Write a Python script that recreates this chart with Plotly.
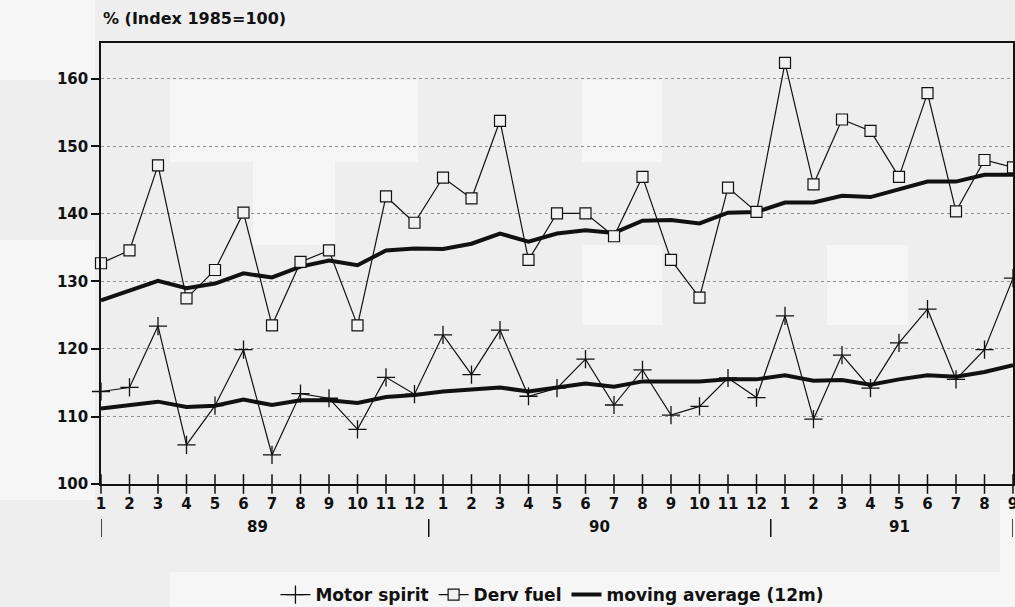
import plotly.graph_objects as go

W, H = 1015, 607
BG = "#eeeeee"
LIGHT = "#f6f6f6"
INK = "#111111"
FONT = "DejaVu Sans"

months = [str(m) for m in range(1, 13)] * 2 + [str(m) for m in range(1, 10)]
years = ["89", "90", "91"]
year_mid = [5.5, 17.5, 28]
year_breaks = [0, 11.5, 23.5, 32]

motor = [113.7, 114.3, 123.4, 105.8, 111.6, 119.9, 104.3, 113.4, 112.7, 108.1, 115.8, 113.3,
         122.1, 116.2, 122.8, 113.0, 114.2, 118.5, 111.7, 116.9, 110.2, 111.5, 115.7, 112.8,
         124.9, 109.6, 119.1, 114.2, 120.9, 125.9, 115.5, 119.9, 130.5]
derv = [132.7, 134.6, 147.2, 127.5, 131.7, 140.2, 123.5, 132.9, 134.6, 123.5, 142.6, 138.7,
        145.4, 142.3, 153.8, 133.2, 140.1, 140.1, 136.7, 145.5, 133.2, 127.6, 143.9, 140.3,
        162.4, 144.4, 154.0, 152.3, 145.5, 157.9, 140.4, 148.0, 146.9]
ma_motor = [111.2, 111.7, 112.2, 111.4, 111.6, 112.5, 111.7, 112.4, 112.4, 112.0, 112.9, 113.2,
            113.7, 114.0, 114.3, 113.7, 114.3, 114.9, 114.4, 115.2, 115.2, 115.2, 115.5, 115.5,
            116.1, 115.3, 115.4, 114.7, 115.5, 116.1, 115.9, 116.6, 117.6]
ma_derv = [127.2, 128.7, 130.1, 129.0, 129.7, 131.2, 130.6, 132.2, 133.1, 132.4, 134.6, 134.9,
           134.8, 135.6, 137.1, 135.9, 137.1, 137.6, 137.2, 139.0, 139.1, 138.6, 140.2, 140.3,
           141.7, 141.7, 142.7, 142.5, 143.6, 144.8, 144.8, 145.8, 145.8]

x = list(range(len(months)))

# plot area in pixels
L, R, T, B = 101, 2, 43, 123
PH = H - T - B

fig = go.Figure()

# moving averages first so the markers sit on top
fig.add_trace(go.Scatter(x=x, y=ma_motor, mode="lines", line=dict(color=INK, width=4),
                         name="moving average (12m)", legendgroup="ma", legendrank=3,
                         hoverinfo="skip"))
fig.add_trace(go.Scatter(x=x, y=ma_derv, mode="lines", line=dict(color=INK, width=4),
                         name="moving average (12m)", legendgroup="ma", showlegend=False,
                         hoverinfo="skip"))
fig.add_trace(go.Scatter(x=x, y=motor, mode="lines+markers", name="Motor spirit", legendrank=1,
                         line=dict(color=INK, width=1.2),
                         marker=dict(symbol="cross-thin", size=13, line=dict(color=INK, width=1.3)),
                         cliponaxis=False))
fig.add_trace(go.Scatter(x=x, y=derv, mode="lines+markers", name="Derv fuel", legendrank=2,
                         line=dict(color=INK, width=1.2),
                         marker=dict(symbol="square", size=11, color="#f2f2f2",
                                     line=dict(color=INK, width=1.2)),
                         cliponaxis=False))

# ticks crossing the x axis
fig.add_trace(go.Scatter(x=x, y=[100] * len(x), mode="markers", showlegend=False, hoverinfo="skip",
                         marker=dict(symbol="line-ns", size=14, line=dict(color=INK, width=1.5)),
                         cliponaxis=False))

# scanned-paper blocks (pixel boxes)
blocks = [(0, 0, 95, 80), (170, 80, 418, 162), (253, 162, 335, 245), (582, 80, 662, 162),
          (582, 245, 662, 325), (827, 245, 908, 325), (170, 572, 1000, 607), (1000, 500, 1015, 607),
          (0, 240, 95, 500)]
shapes = []
for x0, y0, x1, y1 in blocks:
    shapes.append(dict(type="rect", xref="paper", yref="paper", layer="below", line_width=0,
                       fillcolor=LIGHT,
                       x0=(x0 - L) / (W - L - R), x1=(x1 - L) / (W - L - R),
                       y0=(H - B - y0) / PH, y1=(H - B - y1) / PH))
for xb in year_breaks:
    shapes.append(dict(type="line", xref="x", yref="paper", x0=xb, x1=xb,
                       y0=-35 / PH, y1=-53 / PH, line=dict(color=INK, width=1.5)))

annotations = [dict(x=xm, y=-43 / PH, xref="x", yref="paper", text=yr, showarrow=False,
                    yanchor="middle", font=dict(family=FONT, size=15, color=INK, weight="bold"))
               for xm, yr in zip(year_mid, years)]
annotations.append(dict(x=0, y=1.03, xref="paper", yref="paper", xanchor="left",
                        yanchor="bottom", showarrow=False, text="% (Index 1985=100)",
                        font=dict(family=FONT, size=16, color=INK, weight="bold")))

fig.update_layout(
    width=W, height=H,
    paper_bgcolor=BG, plot_bgcolor=BG,
    margin=dict(l=L, r=R, t=T, b=B, autoexpand=False),
    font=dict(family=FONT, size=15, color=INK, weight="bold"),
    shapes=shapes, annotations=annotations,
    showlegend=True,
    legend=dict(orientation="h", x=0.495, xanchor="center", y=-111 / PH, yanchor="middle",
                bgcolor="rgba(0,0,0,0)", font=dict(family=FONT, size=17, weight="bold"),
                itemwidth=30, tracegroupgap=0),
    xaxis=dict(range=[0, 32], tickvals=x, ticktext=months, ticks="", ticklabelstandoff=5,
               ticklabeloverflow="allow", tickfont=dict(size=15),
               showgrid=False, zeroline=False, showline=True, linecolor=INK, linewidth=1.5,
               mirror=True),
    yaxis=dict(range=[100, 165.33], tickvals=[100, 110, 120, 130, 140, 150, 160],
               ticks="outside", ticklen=8, tickcolor=INK, tickwidth=1.5, tickfont=dict(size=15),
               showgrid=True, gridcolor="#8f8f8f", griddash="dot", gridwidth=1,
               zeroline=False, showline=True, linecolor=INK, linewidth=1.5, mirror=True),
)

fig.write_html("out.html", config={"displayModeBar": False},
               post_script="document.body.style.margin='0';")
